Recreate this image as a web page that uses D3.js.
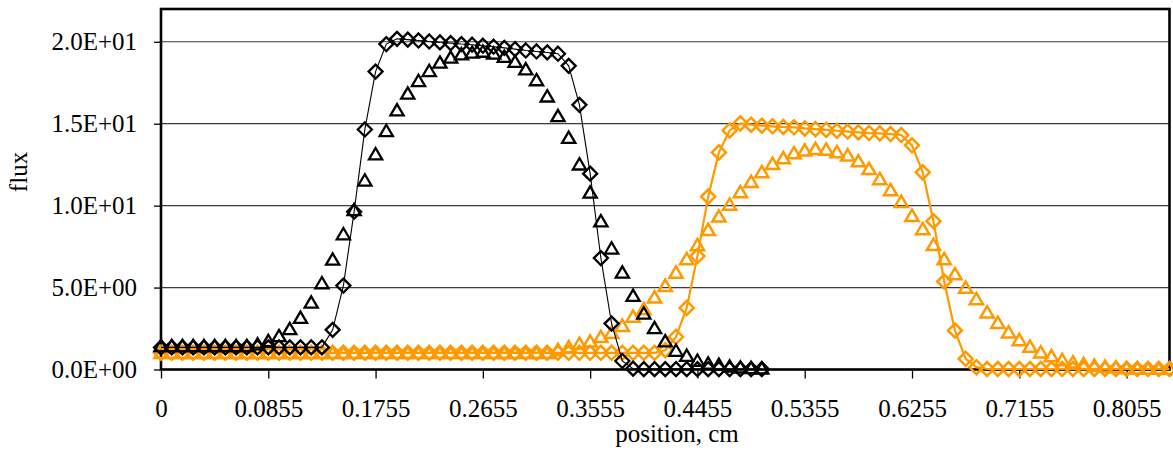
<!DOCTYPE html>
<html>
<head>
<meta charset="utf-8">
<script src="https://cdn.jsdelivr.net/npm/d3@7"></script>
<style>
  body { margin: 0; background: #fff; }
  svg { display: block; font-family: "Liberation Serif", "Times New Roman", serif; }
</style>
</head>
<body>
<svg id="chart" width="1173" height="450"></svg>
<script>
// category positions (cm)
const positions = [0, 0.0045, 0.0135, 0.0225, 0.0315, 0.0405, 0.0495, 0.0585, 0.0675, 0.0765,
  0.0855, 0.0945, 0.1035, 0.1125, 0.1215, 0.1305, 0.1395, 0.1485, 0.1575, 0.1665,
  0.1755, 0.1845, 0.1935, 0.2025, 0.2115, 0.2205, 0.2295, 0.2385, 0.2475, 0.2565,
  0.2655, 0.2745, 0.2835, 0.2925, 0.3015, 0.3105, 0.3195, 0.3285, 0.3375, 0.3465,
  0.3555, 0.3645, 0.3735, 0.3825, 0.3915, 0.4005, 0.4095, 0.4185, 0.4275, 0.4365,
  0.4455, 0.4545, 0.4635, 0.4725, 0.4815, 0.4905, 0.4995, 0.5085, 0.5175, 0.5265,
  0.5355, 0.5445, 0.5535, 0.5625, 0.5715, 0.5805, 0.5895, 0.5985, 0.6075, 0.6165,
  0.6255, 0.6345, 0.6435, 0.6525, 0.6615, 0.6705, 0.6795, 0.6885, 0.6975, 0.7065,
  0.7155, 0.7245, 0.7335, 0.7425, 0.7515, 0.7605, 0.7695, 0.7785, 0.7875, 0.7965,
  0.8055, 0.8145, 0.8235, 0.8325, 0.8415]

const xTickLabels = ['0', '0.0855', '0.1755', '0.2655', '0.3555', '0.4455', '0.5355', '0.6255', '0.7155', '0.8055']
const yTicks = [0, 5, 10, 15, 20]
const yTickLabels = ['0.0E+00', '5.0E+00', '1.0E+01', '1.5E+01', '2.0E+01']

// black series (diamonds with line, triangles markers only)
const blackDiamond = [1.35, 1.35, 1.35, 1.35, 1.35, 1.35, 1.35, 1.35, 1.35, 1.35,
  1.35, 1.35, 1.35, 1.35, 1.35, 1.35, 2.42, 5.12, 9.63, 14.65,
  18.18, 19.86, 20.18, 20.13, 20.08, 20.02, 19.96, 19.92, 19.86, 19.82,
  19.76, 19.70, 19.63, 19.55, 19.47, 19.41, 19.35, 19.27, 18.53, 16.15,
  11.95, 6.8, 2.8, 0.52, 0.05, 0.02, 0.02, 0.02, 0.02, 0.02,
  0.02, 0.02, 0.02, 0.02, 0.02, 0.02, 0.02]

const blackTriangle = [1.45, 1.45, 1.45, 1.45, 1.45, 1.45, 1.45, 1.45, 1.45, 1.55,
  1.75, 2.05, 2.48, 3.17, 4.1, 5.28, 6.72, 8.27, 9.75, 11.55,
  13.15, 14.57, 15.83, 16.85, 17.62, 18.23, 18.74, 19.05, 19.25, 19.35,
  19.41, 19.30, 19.10, 18.79, 18.33, 17.67, 16.68, 15.48, 14.15, 12.53,
  10.81, 9.06, 7.4, 5.93, 4.51, 3.43, 2.54, 1.73, 1.16, 0.85,
  0.55, 0.38, 0.3, 0.2, 0.14, 0.1, 0.08]

// orange series
const orangeDiamond = [1.02, 1.02, 1.02, 1.02, 1.02, 1.02, 1.02, 1.02, 1.02, 1.02,
  1.02, 1.02, 1.02, 1.02, 1.02, 1.02, 1.02, 1.02, 1.02, 1.02,
  1.02, 1.02, 1.02, 1.02, 1.02, 1.02, 1.02, 1.02, 1.02, 1.02,
  1.02, 1.02, 1.02, 1.02, 1.02, 1.02, 1.02, 1.02, 1.02, 1.02,
  1.02, 1.02, 1.02, 1.02, 1.02, 1.02, 1.02, 1.18, 1.99, 3.76,
  6.92, 10.55, 13.25, 14.59, 15.02, 14.94, 14.88, 14.84, 14.80, 14.78,
  14.71, 14.67, 14.62, 14.57, 14.52, 14.47, 14.43, 14.41, 14.37, 14.31,
  13.68, 12.03, 9.05, 5.37, 2.38, 0.65, 0.14, 0.03, 0.03, 0.03,
  0.03, 0.03, 0.03, 0.03, 0.03, 0.03, 0.03, 0.03, 0.03, 0.03,
  0.03, 0.03, 0.03, 0.03, 0.03]

const orangeTriangle = [1.02, 1.02, 1.02, 1.02, 1.02, 1.02, 1.02, 1.02, 1.02, 1.02,
  1.02, 1.02, 1.02, 1.02, 1.02, 1.02, 1.02, 1.02, 1.02, 1.02,
  1.02, 1.02, 1.02, 1.02, 1.02, 1.02, 1.02, 1.02, 1.02, 1.02,
  1.02, 1.02, 1.02, 1.02, 1.02, 1.02, 1.02, 1.2, 1.38, 1.58,
  1.72, 2.0, 2.25, 2.68, 3.24, 3.7, 4.41, 5.12, 5.93, 6.75,
  7.6, 8.53, 9.35, 10.07, 10.84, 11.46, 12.06, 12.56, 12.91, 13.22,
  13.38, 13.48, 13.43, 13.28, 13.08, 12.72, 12.25, 11.63, 10.96, 10.24,
  9.39, 8.58, 7.62, 6.75, 5.83, 5.0, 4.31, 3.5, 2.86, 2.28,
  1.81, 1.4, 1.06, 0.82, 0.59, 0.45, 0.35, 0.24, 0.18, 0.14,
  0.1, 0.08, 0.06, 0.06, 0.05]

const ORANGE = '#ff9900'
const FONT = '"Liberation Serif", "Times New Roman", serif'

const svg = d3.select('#chart')
const plotLeft = 161, plotRight = 1169.5, plotTop = 9, plotBottom = 369.5

const cats = positions.map(String)
const x = d3.scalePoint().domain(cats).range([plotLeft, plotRight])
const y = d3.scaleLinear().domain([0, 22]).range([plotBottom, plotTop])

// gridlines
svg.append('g')
  .selectAll('line')
  .data(yTicks.filter(d => d > 0))
  .join('line')
  .attr('x1', plotLeft).attr('x2', plotRight)
  .attr('y1', d => y(d)).attr('y2', d => y(d))
  .attr('stroke', '#3a3a3a')
  .attr('stroke-width', 1.2)

// y axis
const yAxis = svg.append('g')
  .attr('transform', `translate(${plotLeft},0)`)
  .call(d3.axisLeft(y)
    .tickValues(yTicks)
    .tickFormat((d, i) => yTickLabels[i])
    .tickSize(7)
    .tickPadding(17)
    .tickSizeOuter(0))
yAxis.select('.domain').remove()
yAxis.selectAll('.tick line').attr('stroke', '#000').attr('stroke-width', 1.3)
yAxis.selectAll('text').attr('font-size', 25).attr('fill', '#000')
  .style('font-family', FONT)

// x axis, a label every 10th category
const xTickCats = cats.filter((d, i) => i % 10 === 0)
const xAxis = svg.append('g')
  .attr('transform', `translate(0,${plotBottom})`)
  .call(d3.axisBottom(x)
    .tickValues(xTickCats)
    .tickFormat((d, i) => xTickLabels[i])
    .tickSize(9)
    .tickSizeOuter(0))
xAxis.select('.domain').remove()
xAxis.selectAll('.tick line').attr('stroke', '#000').attr('stroke-width', 1.3)
xAxis.selectAll('text')
  .attr('y', 417 - plotBottom).attr('dy', 0)
  .attr('font-size', 25).attr('fill', '#000')
  .style('font-family', FONT)

// plot frame
svg.append('rect')
  .attr('x', plotLeft).attr('y', plotTop)
  .attr('width', plotRight - plotLeft).attr('height', plotBottom - plotTop)
  .attr('fill', 'none')
  .attr('stroke', '#000')
  .attr('stroke-width', 2.6)

// axis titles
svg.append('text')
  .attr('x', 677).attr('y', 442)
  .attr('text-anchor', 'middle')
  .attr('font-size', 25)
  .text('position, cm')

svg.append('text')
  .attr('transform', 'translate(27,172) rotate(-90)')
  .attr('text-anchor', 'middle')
  .attr('font-size', 25)
  .text('flux')

const diamondPath = 'M0,-7L7,0L0,7L-7,0Z'
const trianglePath = 'M0,-6L6.6,5.3L-6.6,5.3Z'

const line = d3.line()
  .x((d, i) => x(cats[i]))
  .y(d => y(d))

function drawSeries(values, color, shape, lineWidth, markerWidth) {
  const g = svg.append('g')
  if (lineWidth) {
    g.append('path')
      .datum(values)
      .attr('fill', 'none')
      .attr('stroke', color)
      .attr('stroke-width', lineWidth)
      .attr('d', line)
  }
  g.selectAll('path.mk')
    .data(values)
    .join('path')
    .attr('class', 'mk')
    .attr('transform', (d, i) => `translate(${x(cats[i])},${y(d)})`)
    .attr('d', shape)
    .attr('fill', 'none')
    .attr('stroke', color)
    .attr('stroke-width', markerWidth)
}

drawSeries(orangeDiamond, ORANGE, diamondPath, 2.2, 2.5)
drawSeries(orangeTriangle, ORANGE, trianglePath, 0, 2.5)
drawSeries(blackDiamond, '#000', diamondPath, 1.1, 2.3)
drawSeries(blackTriangle, '#000', trianglePath, 0, 2.3)
</script>
</body>
</html>
